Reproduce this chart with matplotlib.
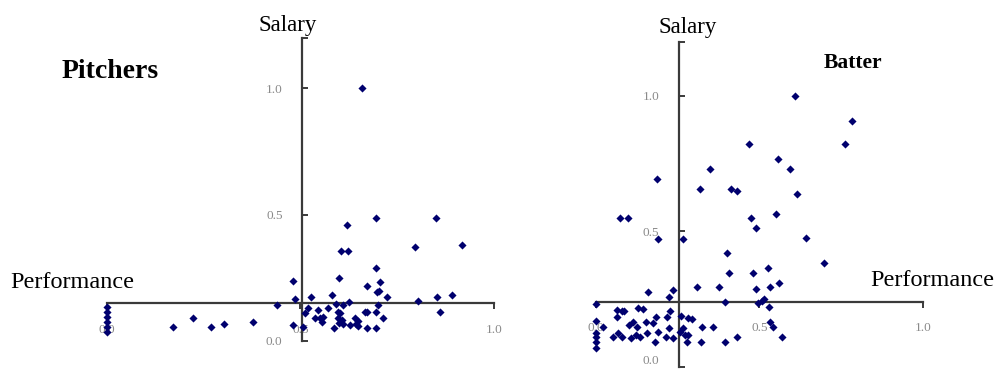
import numpy as np
import matplotlib
matplotlib.use("Agg")
import matplotlib.pyplot as plt

# pitchers: (performance, salary), normalised 0..1
pitcher_perf = [0.66, 0.695, 0.85, 0.619, 0.796, 0.917, 0.604, 0.622, 0.695, 0.60,
                0.48, 0.671, 0.705, 0.697, 0.702, 0.723, 0.582, 0.526, 0.486, 0.892,
                0.853, 0.804, 0.626, 0.611, 0.592, 0.438, 0.860, 0.701, 0.695, 0.666,
                0.673, 0.512, 0.52, 0.546, 0.572, 0.597, 0.603,
                0.537, 0.55, 0.559, 0.555, 0.596, 0.606, 0.60, 0.611, 0.641, 0.648, 0.643,
                0.714, 0.628, 0.648, 0.587, 0.671, 0.695, 0.48, 0.506, 0.376, 0.302,
                0.27, 0.223, 0.171,
                0.0, 0.0, 0.0, 0.0, 0.0, 0.0]
pitcher_salary = [1.0, 0.487, 0.487, 0.458, 0.37, 0.379, 0.356, 0.356, 0.287, 0.247,
                  0.236, 0.218, 0.234, 0.193, 0.195, 0.174, 0.182, 0.174, 0.165, 0.182,
                  0.174, 0.158, 0.155, 0.142, 0.146, 0.142, 0.115, 0.142, 0.112, 0.114,
                  0.112, 0.109, 0.128, 0.122, 0.128, 0.114, 0.109,
                  0.091, 0.089, 0.095, 0.075, 0.089, 0.082, 0.071, 0.066, 0.089, 0.079, 0.066,
                  0.089, 0.062, 0.057, 0.049, 0.049, 0.049, 0.062, 0.056, 0.075, 0.066,
                  0.056, 0.089, 0.056,
                  0.135, 0.115, 0.095, 0.076, 0.056, 0.036]

# batters
batter_perf = [0.609, 0.784, 0.763, 0.468, 0.556, 0.594, 0.35, 0.187, 0.319, 0.413,
               0.431, 0.614, 0.55, 0.074, 0.1, 0.475, 0.49, 0.643, 0.191, 0.268,
               0.696, 0.40, 0.408, 0.482, 0.525, 0.31, 0.378, 0.49, 0.533, 0.559,
               0.237, 0.161, 0.225,
               0.395, 0.001, 0.497, 0.507, 0.515, 0.53,
               0.066, 0.079, 0.087, 0.128, 0.144, 0.227, 0.064, 0.0, 0.023,
               0.103, 0.115, 0.125, 0.154, 0.174, 0.184, 0.217, 0.26, 0.283, 0.295,
               0.324, 0.359, 0.0, 0.0, 0.0, 0.0,
               0.052, 0.069, 0.079, 0.107, 0.123, 0.135, 0.156, 0.181, 0.191, 0.215,
               0.225, 0.237, 0.258, 0.268, 0.273, 0.278, 0.283, 0.321, 0.395, 0.431,
               0.568, 0.533, 0.543]
batter_salary = [0.999, 0.908, 0.822, 0.822, 0.765, 0.729, 0.729, 0.693, 0.656, 0.656,
                 0.648, 0.638, 0.565, 0.547, 0.547, 0.547, 0.51, 0.474, 0.471, 0.471,
                 0.381, 0.418, 0.345, 0.345, 0.363, 0.293, 0.295, 0.286, 0.295, 0.308,
                 0.283, 0.275, 0.258,
                 0.24, 0.231, 0.235, 0.244, 0.249, 0.221,
                 0.209, 0.205, 0.205, 0.218, 0.212, 0.205, 0.185, 0.17, 0.148,
                 0.154, 0.166, 0.148, 0.166, 0.162, 0.185, 0.182, 0.187, 0.181, 0.175,
                 0.148, 0.148, 0.123, 0.111, 0.092, 0.068,
                 0.111, 0.123, 0.111, 0.105, 0.117, 0.111, 0.123, 0.092, 0.129, 0.111,
                 0.142, 0.105, 0.129, 0.142, 0.117, 0.092, 0.117, 0.092, 0.092, 0.111,
                 0.111, 0.166, 0.148]

tick_vals = [0.0, 0.5, 1.0]
tick_labels = ["0.0", "0.5", "1.0"]

W, H = 995, 371
fig = plt.figure(figsize=(W / 100, H / 100), dpi=100)
fig.patch.set_facecolor("white")

serif = ["Liberation Serif", "DejaVu Serif"]
dot_color = "#00006e"
axis_color = "#3a3a3a"
tick_color = "#8a8a8a"


def quad_axes(left_px, x1_px, y0_px, y1_px, xcross, ycross):
    # pixel positions of data 0 and 1 -> axes box with ylim 0..1.2
    unit_y = y0_px - y1_px
    ax = fig.add_axes([left_px / W, (H - y0_px) / H,
                       (x1_px - left_px) / W, 1.2 * unit_y / H])
    ax.set_xlim(0, 1)
    ax.set_ylim(0, 1.2)
    ax.patch.set_alpha(0)
    for s in ["top", "right"]:
        ax.spines[s].set_visible(False)
    ax.spines["left"].set_position(("data", xcross))
    ax.spines["bottom"].set_position(("data", ycross))
    ax.spines["left"].set_bounds(0, 1.2)
    ax.spines["bottom"].set_bounds(0, 1)
    for s in ["left", "bottom"]:
        ax.spines[s].set_color(axis_color)
        ax.spines[s].set_linewidth(1.6)
    ax.set_xticks(tick_vals)
    ax.set_xticklabels(tick_labels)
    ax.set_yticks(tick_vals)
    ax.set_yticklabels(tick_labels)
    ax.set_yticks([1.2], minor=True)
    ax.tick_params(axis="y", which="both", direction="in", length=4, width=1.4,
                   color=axis_color, labelcolor=tick_color, labelsize=9.5, pad=14)
    ax.tick_params(axis="x", direction="out", length=4, width=1.4,
                   color=axis_color, labelcolor=tick_color, labelsize=9.5, pad=11)
    for lab in ax.get_xticklabels() + ax.get_yticklabels():
        lab.set_family(serif)
    return ax


ax1 = quad_axes(107, 494, 340.7, 88.3, 0.504, 0.15)
ax1.scatter(pitcher_perf, pitcher_salary, marker="D", s=17, color=dot_color,
            zorder=5, clip_on=False, linewidths=0)

ax2 = quad_axes(595.7, 923, 366.7, 95.7, 0.254, 0.24)
ax2.scatter(batter_perf, batter_salary, marker="D", s=17, color=dot_color,
            zorder=5, clip_on=False, linewidths=0)
# bottom label of the right chart sits at the figure edge; keep it inside
ax2.get_yticklabels()[0].set_verticalalignment("bottom")


def ftext(x, y, s, size, weight="normal"):
    fig.text(x / W, 1 - y / H, s, ha="center", va="center", fontsize=size,
             family=serif, weight=weight, color="black")


ftext(288, 25, "Salary", 16.5)
ftext(110, 71, "Pitchers", 20, "bold")
ftext(72, 283, "Performance", 17.5)
ftext(688, 27, "Salary", 16.5)
ftext(853, 63, "Batter", 15.5, "bold")
ftext(932, 280, "Performance", 17.5)

fig.savefig("out.png", dpi=100, facecolor="white")
